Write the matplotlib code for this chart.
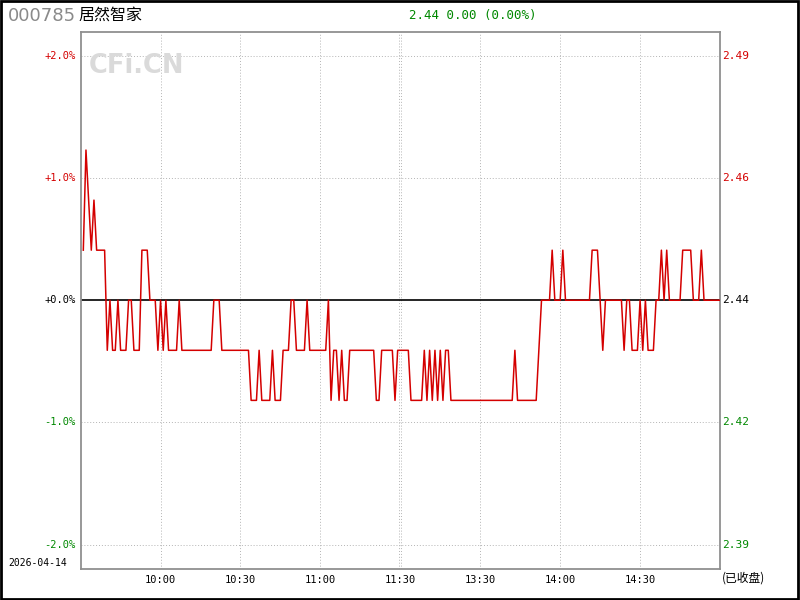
import matplotlib
matplotlib.use("Agg")
import matplotlib.pyplot as plt
import numpy as np

# ---- data ----
code = "000785"
name = "居然智家"
date_label = "2026-04-14"
prev_close = 2.44
last_price = 2.44
change = 0.00
change_pct = 0.00

# minute prices from 9:31 to 15:00 (240 points)
prices = [
    2.45, 2.47, 2.46, 2.45, 2.46, 2.45, 2.45, 2.45, 2.45, 2.43,
    2.44, 2.43, 2.43, 2.44, 2.43, 2.43, 2.43, 2.44, 2.44, 2.43,
    2.43, 2.43, 2.45, 2.45, 2.45, 2.44, 2.44, 2.44, 2.43, 2.44,
    2.43, 2.44, 2.43, 2.43, 2.43, 2.43, 2.44, 2.43, 2.43, 2.43,
    2.43, 2.43, 2.43, 2.43, 2.43, 2.43, 2.43, 2.43, 2.43, 2.44,
    2.44, 2.44, 2.43, 2.43, 2.43, 2.43, 2.43, 2.43, 2.43, 2.43,
    2.43, 2.43, 2.43, 2.42, 2.42, 2.42, 2.43, 2.42, 2.42, 2.42,
    2.42, 2.43, 2.42, 2.42, 2.42, 2.43, 2.43, 2.43, 2.44, 2.44,
    2.43, 2.43, 2.43, 2.43, 2.44, 2.43, 2.43, 2.43, 2.43, 2.43,
    2.43, 2.43, 2.44, 2.42, 2.43, 2.43, 2.42, 2.43, 2.42, 2.42,
    2.43, 2.43, 2.43, 2.43, 2.43, 2.43, 2.43, 2.43, 2.43, 2.43,
    2.42, 2.42, 2.43, 2.43, 2.43, 2.43, 2.43, 2.42, 2.43, 2.43,
    2.43, 2.43, 2.43, 2.42, 2.42, 2.42, 2.42, 2.42, 2.43, 2.42,
    2.43, 2.42, 2.43, 2.42, 2.43, 2.42, 2.43, 2.43, 2.42, 2.42,
    2.42, 2.42, 2.42, 2.42, 2.42, 2.42, 2.42, 2.42, 2.42, 2.42,
    2.42, 2.42, 2.42, 2.42, 2.42, 2.42, 2.42, 2.42, 2.42, 2.42,
    2.42, 2.42, 2.43, 2.42, 2.42, 2.42, 2.42, 2.42, 2.42, 2.42,
    2.42, 2.43, 2.44, 2.44, 2.44, 2.44, 2.45, 2.44, 2.44, 2.44,
    2.45, 2.44, 2.44, 2.44, 2.44, 2.44, 2.44, 2.44, 2.44, 2.44,
    2.44, 2.45, 2.45, 2.45, 2.44, 2.43, 2.44, 2.44, 2.44, 2.44,
    2.44, 2.44, 2.44, 2.43, 2.44, 2.44, 2.43, 2.43, 2.43, 2.44,
    2.43, 2.44, 2.43, 2.43, 2.43, 2.44, 2.44, 2.45, 2.44, 2.45,
    2.44, 2.44, 2.44, 2.44, 2.44, 2.45, 2.45, 2.45, 2.45, 2.44,
    2.44, 2.44, 2.45, 2.44, 2.44, 2.44, 2.44, 2.44, 2.44, 2.44,
]

time_labels = ["10:00", "10:30", "11:00", "11:30", "13:30", "14:00", "14:30"]
time_minutes = [30, 60, 90, 120, 150, 180, 210]
pct_ticks = [2.0, 1.0, 0.0, -1.0, -2.0]
left_labels = ["+2.0%", "+1.0%", "+0.0%", "-1.0%", "-2.0%"]
right_labels = ["2.49", "2.46", "2.44", "2.42", "2.39"]

RED = "#d40000"
GREEN = "#008800"
GRID = "#b4b4b4"
MONO = "DejaVu Sans Mono"

fig = plt.figure(figsize=(8, 6), dpi=100)
fig.patch.set_facecolor("white")

ax = fig.add_axes([0.1008, 0.0517, 0.9 - 0.1008, 0.9475 - 0.0517])
ax.set_xlim(0, 240)
ax.set_ylim(-2.2, 2.2)

x = np.arange(1, len(prices) + 1)
pct = (np.array(prices) / prev_close - 1.0) * 100.0

# grid
for yv in [2.0, 1.0, -1.0, -2.0]:
    ax.axhline(yv, color=GRID, lw=0.7, ls=(0, (1, 2)), zorder=1)
for xm in time_minutes:
    if xm == 120:
        ax.axvline(119.6, color=GRID, lw=0.7, ls=(0, (1, 2)), zorder=1)
        ax.axvline(120.4, color=GRID, lw=0.7, ls=(0, (1, 2)), zorder=1)
    else:
        ax.axvline(xm, color=GRID, lw=0.7, ls=(0, (1, 2)), zorder=1)
ax.axhline(0, color="black", lw=1.2, zorder=2)

ax.plot(x, pct, color=RED, lw=1.1, zorder=3)

for s in ax.spines.values():
    s.set_color("#909090")
    s.set_linewidth(1.3)
ax.set_xticks([])
ax.set_yticks([])

# y labels
def col(v):
    return RED if v > 0 else (GREEN if v < 0 else "black")

for v, lt, rt in zip(pct_ticks, left_labels, right_labels):
    ax.text(-0.008, v, lt, transform=ax.get_yaxis_transform(), ha="right", va="center",
            fontsize=7.5, family=MONO, color=col(v))
    ax.text(1.004, v, rt, transform=ax.get_yaxis_transform(), ha="left", va="center",
            fontsize=8, family=MONO, color=col(v))

# x labels
for xm, lab in zip(time_minutes, time_labels):
    ax.text(xm, -0.012, lab, transform=ax.get_xaxis_transform(), ha="center", va="top",
            fontsize=7.5, family=MONO, color="black")

fig.text(722 / 800, 1 - 578 / 600, "(已收盘)", ha="left", va="center", fontsize=8.5,
         family=["Noto Sans CJK SC", "DejaVu Sans"], color="black")
fig.text(8 / 800, 1 - 563 / 600, date_label, ha="left", va="center", fontsize=7,
         family=MONO, color="black")

# header
fig.text(8 / 800, 1 - 16 / 600, code, ha="left", va="center", fontsize=13,
         family="DejaVu Sans", color="#8a8a8a")
fig.text(78 / 800, 1 - 15 / 600, name, ha="left", va="center", fontsize=11.5,
         family=["Noto Sans CJK SC", "DejaVu Sans"], color="black")
fig.text(473 / 800, 1 - 15 / 600,
         f"{last_price:.2f} {change:.2f} ({change_pct:.2f}%)",
         ha="center", va="center", fontsize=9, family=MONO, color=GREEN)

# watermark
fig.text(89 / 800, 1 - 66 / 600, "CFi.CN", ha="left", va="center", fontsize=18.5,
         fontweight="bold", family="DejaVu Sans", color="#dadada", zorder=0)

# outer border
fig.add_artist(plt.Rectangle((0.001, 0.001), 0.997, 0.997, transform=fig.transFigure,
                             fill=False, edgecolor="black", lw=2))

fig.savefig("out.png", dpi=100, facecolor="white")
